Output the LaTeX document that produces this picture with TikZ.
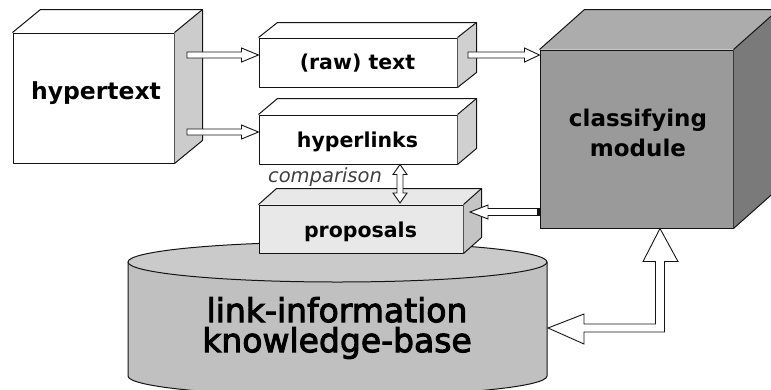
\documentclass[tikz,border=0pt]{standalone}
\usepackage{fontspec}
\setmainfont{DejaVu Sans}
\newfontfamily\kbfont[FakeBold=3]{DejaVu Sans}
\usetikzlibrary{calc}
\definecolor{hypside}{RGB}{204,204,204}
\definecolor{boxside}{RGB}{208,208,208}
\definecolor{propfront}{RGB}{232,232,232}
\definecolor{propside}{RGB}{196,196,196}
\definecolor{clsfront}{RGB}{154,154,154}
\definecolor{clstop}{RGB}{172,172,172}
\definecolor{clsside}{RGB}{122,122,122}
\definecolor{cylside}{RGB}{192,192,192}
\definecolor{cyltop}{RGB}{202,202,202}
\definecolor{edge}{RGB}{20,20,20}
\tikzset{
  face/.style={draw=edge, line width=1pt, line join=round},
  frontface/.style={face, inner sep=0pt},
  blockarrow/.style={draw=edge, fill=white, line width=0.9pt, line join=miter},
  lbl/.style={font=\bfseries\fontsize{20.5}{24}\selectfont, inner sep=0pt, anchor=base},
}
% right/left block arrow: #1 tail, #2 tip, #3 signed head length, #4 shaft half, #5 head half
\newcommand\hblockarrow[5]{%
  \draw[blockarrow] let \p1=(#1), \p2=(#2) in
    (\x1,\y1+#4) -- (\x2-#3,\y1+#4) -- (\x2-#3,\y1+#5) -- (\x2,\y2)
    -- (\x2-#3,\y1-#5) -- (\x2-#3,\y1-#4) -- (\x1,\y1-#4) -- cycle;}
\newcommand\boxfaces[3]{% #1 node, #2 dx, #3 dy, sidecolor via \sidecol, topcolor via \topcol
  \fill[\topcol] (#1.north west) -- ++(#2,#3) -- ($(#1.north east)+(#2,#3)$) -- (#1.north east) -- cycle;
  \fill[\sidecol] (#1.north east) -- ++(#2,#3) -- ($(#1.south east)+(#2,#3)$) -- (#1.south east) -- cycle;
  \draw[face] (#1.north west) -- ++(#2,#3) -- ($(#1.north east)+(#2,#3)$) -- ($(#1.south east)+(#2,#3)$) -- (#1.south east);
  \draw[face] (#1.north east) -- ++(#2,#3);}
\begin{document}
\begin{tikzpicture}[x=1pt,y=-1pt]
\useasboundingbox (0,0) rectangle (771,389);
\clip (0,0) rectangle (771,389);

% cylinder (knowledge base)
\coordinate (cylc) at (337.5,262);
\filldraw[face, fill=cylside] (128,262) -- (128,376) arc[start angle=180, end angle=0, x radius=209.5, y radius=20] -- (547,262) -- cycle;
\filldraw[face, fill=cyltop] (cylc) ellipse[x radius=209.5, y radius=20];
\node[font=\kbfont\fontsize{33}{30}\selectfont, align=center, inner sep=0pt] (kb) at (337,328) {link-information\\knowledge-base};

% hypertext cube
\node[frontface, fill=white, minimum width=161pt, minimum height=130pt] (hyp) at (93.5,98) {};
\def\topcol{white}\def\sidecol{hypside}
\boxfaces{hyp}{28}{-23}
\node[font=\bfseries\fontsize{23.5}{28}\selectfont, inner sep=0pt, anchor=base] (hyplbl) at (96,99) {hypertext};

% (raw) text box
\node[frontface, fill=white, minimum width=198pt, minimum height=49pt] (raw) at (358,62.5) {};
\def\topcol{white}\def\sidecol{boxside}
\boxfaces{raw}{19}{-15}
\node[lbl] (rawlbl) at (357.5,69) {(raw) text};

% hyperlinks box
\node[frontface, fill=white, minimum width=198pt, minimum height=49pt] (links) at (358,139.5) {};
\boxfaces{links}{19}{-16}
\node[lbl] (linkslbl) at (357.5,147) {hyperlinks};

% proposals box
\node[frontface, fill=propfront, minimum width=204pt, minimum height=48pt] (prop) at (361,229) {};
\def\topcol{propfront}\def\sidecol{propside}
\boxfaces{prop}{18}{-16}
\node[lbl] (proplbl) at (360.5,237) {proposals};

% classifying module cube
\node[frontface, fill=clsfront, minimum width=193pt, minimum height=178pt] (cls) at (636.5,139) {};
\def\topcol{clstop}\def\sidecol{clsside}
\boxfaces{cls}{45}{-40}
\node[font=\bfseries\fontsize{23}{30}\selectfont, align=center, inner sep=0pt] (clslbl) at (638,133.3) {classifying\\module};

% arrows hypertext -> raw text / hyperlinks
\coordinate (a1) at (187,55);
\coordinate (a1t) at (raw.west |- a1);
\hblockarrow{a1}{a1t}{17pt}{3pt}{7pt}
\coordinate (a2) at (187,132);
\coordinate (a2t) at (links.west |- a2);
\hblockarrow{a2}{a2t}{17pt}{3pt}{7pt}

% raw text -> classifying
\coordinate (a3) at (468,55);
\coordinate (a3t) at (cls.west |- a3);
\hblockarrow{a3}{a3t}{15pt}{3pt}{7pt}

% classifying -> proposals
\coordinate (a4) at (cls.west |- 0,212);
\coordinate (a4t) at (470,212);
\hblockarrow{a4}{a4t}{-18pt}{3.5pt}{7pt}
\fill[edge] ($(a4)+(-3,-3.5)$) rectangle ($(a4)+(0,3.5)$);

% comparison double arrow
\coordinate (c1) at (links.south -| 400,0);
\coordinate (c2) at (400,203);
\draw[blockarrow] let \p1=(c1), \p2=(c2) in
  (\p1) -- (\x1+7pt,\y1-10pt) -- (\x1+3pt,\y1-10pt) -- (\x1+3pt,\y2+10pt) -- (\x1+7pt,\y2+10pt)
  -- (\p2) -- (\x1-7pt,\y2+10pt) -- (\x1-3pt,\y2+10pt) -- (\x1-3pt,\y1-10pt) -- (\x1-7pt,\y1-10pt) -- cycle;
\node[font=\itshape\fontsize{19.5}{22}\selectfont, text=black!75, inner sep=0pt, anchor=base] (cmp) at (325,182) {comparison};

% big L-shaped arrow between knowledge base and classifying module
\coordinate (bt) at (cls.south -| 660,0);
\coordinate (bl) at (548,328);
\draw[blockarrow] let \p1=(bt), \p2=(bl) in
  (\p1) -- (\x1+18pt,\y1-33pt) -- (\x1+4.5pt,\y1-33pt) -- (\x1+4.5pt,\y2-4pt) -- (\x2+36pt,\y2-4pt)
  -- (\x2+36pt,\y2-16pt) -- (\p2) -- (\x2+36pt,\y2+14pt) -- (\x2+36pt,\y2+4pt) -- (\x1-4.5pt,\y2+4pt)
  -- (\x1-4.5pt,\y1-33pt) -- (\x1-17pt,\y1-33pt) -- cycle;
\end{tikzpicture}
\end{document}
